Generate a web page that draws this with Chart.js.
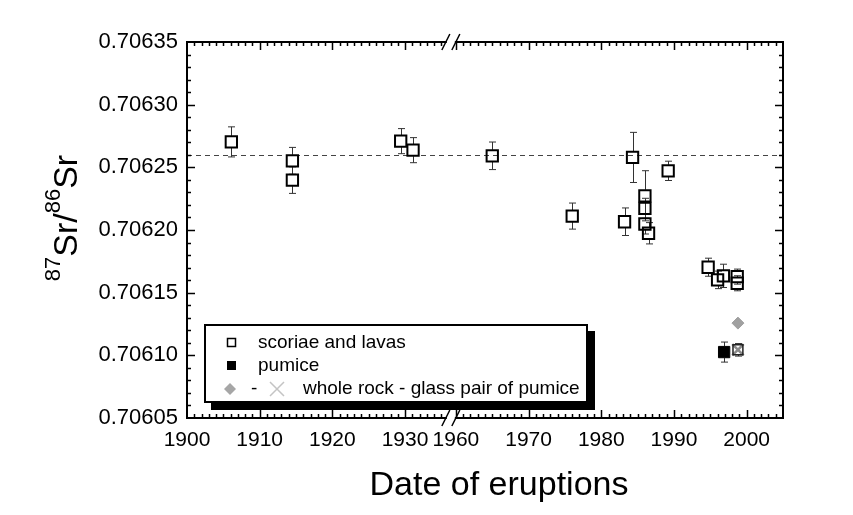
<!DOCTYPE html>
<html>
<head>
<meta charset="utf-8">
<script src="https://cdn.jsdelivr.net/npm/chart.js@4.4.1/dist/chart.umd.min.js"></script>
<style>
    html, body { margin: 0; padding: 0; background: #fff; }
    #contenedor { width: 853px; height: 515px; }
</style>
</head>
<body>
<div id="contenedor"><canvas id="grafico" width="853" height="515"></canvas></div>
<script>
// --- Datos ---
// Escorias y lavas (cuadrados vacíos)
const aniosEscorias = [1906.1, 1914.5, 1914.5, 1929.4, 1931.1, 1965.0, 1976.0, 1983.2, 1984.3, 1986.0,
    1986.0, 1986.0, 1986.5, 1989.2, 1994.7, 1996.0, 1996.8, 1998.7, 1998.7];
const valoresEscorias = [0.7062703, 0.7062552, 0.7062398, 0.7062709, 0.7062637, 0.7062592, 0.7062111, 0.7062066, 0.7062579, 0.7062273,
    0.7062173, 0.7062048, 0.7061974, 0.7062472, 0.7061703, 0.7061602, 0.7061634, 0.7061628, 0.7061575];
const erroresEscorias = [12, 10.7, 10.6, 10, 10, 11, 10.4, 11, 20, 20,
    8, 8, 8.5, 7.7, 7.2, 7, 9.3, 6, 6]; // en unidades de 1e-6

// Pómez (cuadrado lleno)
const aniosPomez = [1996.9];
const valoresPomez = [0.7061026];
const erroresPomez = [8];

// Par roca total - vidrio de la pómez
const aniosRoca = [1998.8];
const valoresRoca = [0.7061257];
const aniosVidrio = [1998.8];
const valoresVidrio = [0.7061044];
const erroresVidrio = [5];

// Etiquetas de los ejes
const etiquetasX = [1900, 1910, 1920, 1930, 1960, 1970, 1980, 1990, 2000];
const etiquetasY = [0.70605, 0.70610, 0.70615, 0.70620, 0.70625, 0.70630, 0.70635];
const valorReferencia = 0.70626;

// Eje X cortado: de 1936 a 1959 no se dibuja
const CORTE = 23;
const aVirtual = a => (a >= 1950 ? a - CORTE : a);
const deVirtual = v => (v > 1936.5 ? v + CORTE : v);

const FUENTE = '"Liberation Sans", Arial, sans-serif';

function puntos(anios, valores) {
    return anios.map((a, i) => ({ x: aVirtual(a), y: valores[i] }));
}

// Barras de error (se dibujan desde el borde del símbolo hacia fuera)
const pluginErrores = {
    id: 'errores',
    beforeDatasetsDraw: (chart) => {
        const ctx = chart.ctx;
        const sx = chart.scales.x;
        const sy = chart.scales.y;
        const area = chart.chartArea;

        // Línea discontinua de referencia
        ctx.save();
        ctx.strokeStyle = '#444';
        ctx.lineWidth = 1;
        ctx.setLineDash([5, 4]);
        const yRef = Math.round(sy.getPixelForValue(valorReferencia)) + 0.5;
        ctx.beginPath();
        ctx.moveTo(area.left, yRef);
        ctx.lineTo(area.right, yRef);
        ctx.stroke();
        ctx.restore();

        const grupos = [
            [aniosEscorias, valoresEscorias, erroresEscorias, 6],
            [aniosPomez, valoresPomez, erroresPomez, 6],
            [aniosVidrio, valoresVidrio, erroresVidrio, 5]
        ];
        ctx.save();
        ctx.strokeStyle = '#333';
        ctx.lineWidth = 1;
        grupos.forEach(([anios, valores, errores, medio]) => {
            anios.forEach((a, i) => {
                const x = Math.round(sx.getPixelForValue(aVirtual(a))) + 0.5;
                const y = sy.getPixelForValue(valores[i]);
                const yArriba = sy.getPixelForValue(valores[i] + errores[i] * 1e-6);
                const yAbajo = sy.getPixelForValue(valores[i] - errores[i] * 1e-6);
                ctx.beginPath();
                if (yArriba < y - medio) {
                    ctx.moveTo(x, y - medio); ctx.lineTo(x, yArriba);
                    ctx.moveTo(x - 3.5, yArriba); ctx.lineTo(x + 3.5, yArriba);
                }
                if (yAbajo > y + medio) {
                    ctx.moveTo(x, y + medio); ctx.lineTo(x, yAbajo);
                    ctx.moveTo(x - 3.5, yAbajo); ctx.lineTo(x + 3.5, yAbajo);
                }
                ctx.stroke();
            });
        });
        ctx.restore();
    }
};

// Marco con marcas hacia dentro en los cuatro lados, corte del eje X y títulos
const pluginMarco = {
    id: 'marco',
    afterDatasetsDraw: (chart) => {
        const ctx = chart.ctx;
        const sx = chart.scales.x;
        const sy = chart.scales.y;
        const { left, right, top, bottom } = chart.chartArea;

        ctx.save();
        ctx.strokeStyle = '#000';
        ctx.lineWidth = 2;
        ctx.strokeRect(left, top, right - left, bottom - top);

        ctx.lineWidth = 1.5;
        ctx.beginPath();
        // Marcas del eje Y: menores cada 0.00001
        for (let i = 1; i < 30; i++) {
            const y = Math.round(sy.getPixelForValue(0.70605 + i * 0.00001)) + 0.5;
            const largo = i % 5 === 0 ? 8 : 4;
            ctx.moveTo(left, y); ctx.lineTo(left + largo, y);
            ctx.moveTo(right, y); ctx.lineTo(right - largo, y);
        }
        // Marcas del eje X: menores cada año
        const anios = [];
        for (let a = 1901; a <= 1935; a++) anios.push(a);
        for (let a = 1960; a <= 2004; a++) anios.push(a);
        anios.forEach(a => {
            const x = Math.round(sx.getPixelForValue(aVirtual(a))) + 0.5;
            const largo = a % 10 === 0 ? 8 : 4;
            ctx.moveTo(x, bottom); ctx.lineTo(x, bottom - largo);
            ctx.moveTo(x, top); ctx.lineTo(x, top + largo);
        });
        ctx.stroke();

        // Corte "//" en los ejes superior e inferior
        const xCorte = sx.getPixelForValue(1936.3);
        [top, bottom].forEach(y => {
            ctx.fillStyle = '#fff';
            ctx.fillRect(xCorte - 4, y - 3, 8, 6);
            ctx.strokeStyle = '#000';
            ctx.lineWidth = 1.5;
            ctx.beginPath();
            ctx.moveTo(xCorte - 9, y + 8); ctx.lineTo(xCorte - 1, y - 8);
            ctx.moveTo(xCorte + 1, y + 8); ctx.lineTo(xCorte + 9, y - 8);
            ctx.stroke();
        });
        ctx.restore();
    },
    afterDraw: (chart) => {
        const ctx = chart.ctx;
        ctx.save();
        ctx.fillStyle = '#000';

        // Título del eje X
        ctx.font = '34px ' + FUENTE;
        ctx.textAlign = 'center';
        ctx.textBaseline = 'alphabetic';
        ctx.fillText('Date of eruptions', 499, 495);

        // Título del eje Y con superíndices: 87Sr/86Sr
        const partes = [
            ['87', 22, -17], ['Sr/', 34, 0], ['86', 22, -17], ['Sr', 34, 0]
        ];
        let total = 0;
        partes.forEach(([t, f]) => { ctx.font = f + 'px ' + FUENTE; total += ctx.measureText(t).width; });
        ctx.translate(77, 218);
        ctx.rotate(-Math.PI / 2);
        ctx.textAlign = 'left';
        let x = -total / 2;
        partes.forEach(([t, f, dy]) => {
            ctx.font = f + 'px ' + FUENTE;
            ctx.fillText(t, x, dy);
            x += ctx.measureText(t).width;
        });
        ctx.restore();

        // Leyenda con sombra
        ctx.save();
        ctx.fillStyle = '#000';
        ctx.fillRect(211, 331, 384, 79);
        ctx.fillStyle = '#fff';
        ctx.fillRect(205, 325, 382, 77);
        ctx.strokeStyle = '#000';
        ctx.lineWidth = 2;
        ctx.strokeRect(205, 325, 382, 77);

        ctx.font = '19px ' + FUENTE;
        ctx.textAlign = 'left';
        ctx.textBaseline = 'middle';
        ctx.fillStyle = '#000';
        ctx.lineWidth = 1.5;
        ctx.strokeRect(227.5, 338.5, 8, 8);
        ctx.fillText('scoriae and lavas', 258, 343);
        ctx.fillRect(227, 361, 9, 9);
        ctx.fillText('pumice', 258, 366);

        ctx.fillStyle = '#a6a6a6';
        ctx.beginPath();
        ctx.moveTo(230, 383); ctx.lineTo(236, 389); ctx.lineTo(230, 395); ctx.lineTo(224, 389);
        ctx.closePath();
        ctx.fill();
        ctx.fillStyle = '#000';
        ctx.fillText('-', 251, 389);
        ctx.strokeStyle = '#c4c4c4';
        ctx.lineWidth = 1.5;
        ctx.beginPath();
        ctx.moveTo(270, 382); ctx.lineTo(284, 396);
        ctx.moveTo(284, 382); ctx.lineTo(270, 396);
        ctx.stroke();
        ctx.fillText('whole rock - glass pair of pumice', 303, 389);
        ctx.restore();
    }
};

new Chart(document.getElementById('grafico').getContext('2d'), {
    type: 'scatter',
    data: {
        datasets: [
            {
                label: 'scoriae and lavas',
                data: puntos(aniosEscorias, valoresEscorias),
                pointStyle: 'rect',
                pointRadius: 8,
                borderColor: '#000',
                backgroundColor: 'rgba(0,0,0,0)',
                borderWidth: 2
            },
            {
                label: 'pumice',
                data: puntos(aniosPomez, valoresPomez),
                pointStyle: 'rect',
                pointRadius: 8,
                borderColor: '#000',
                backgroundColor: '#000',
                borderWidth: 1
            },
            {
                label: 'whole rock',
                data: puntos(aniosRoca, valoresRoca),
                pointStyle: 'rectRot',
                pointRadius: 6,
                borderColor: '#a0a0a0',
                backgroundColor: '#a0a0a0',
                borderWidth: 1
            },
            {
                label: 'glass (marco)',
                data: puntos(aniosVidrio, valoresVidrio),
                pointStyle: 'rect',
                pointRadius: 7,
                borderColor: '#222',
                backgroundColor: 'rgba(0,0,0,0)',
                borderWidth: 1.5
            },
            {
                label: 'glass',
                data: puntos(aniosVidrio, valoresVidrio),
                pointStyle: 'crossRot',
                pointRadius: 8,
                borderColor: '#8a8a8a',
                borderWidth: 2.5
            }
        ]
    },
    options: {
        responsive: false,
        animation: false,
        devicePixelRatio: 1,
        layout: { padding: { top: 42, right: 70, left: 0, bottom: 0 } },
        plugins: {
            legend: { display: false },
            tooltip: { enabled: false }
        },
        scales: {
            x: {
                type: 'linear',
                min: 1900,
                max: 1982,
                grid: { display: false, drawTicks: false },
                border: { display: false },
                afterBuildTicks: (scale) => {
                    scale.ticks = etiquetasX.map(a => ({ value: aVirtual(a) }));
                },
                afterFit: (scale) => { scale.height = 97; },
                ticks: {
                    autoSkip: false,
                    maxRotation: 0,
                    padding: 10,
                    color: '#000',
                    font: { family: FUENTE, size: 21 },
                    callback: (v) => String(Math.round(deVirtual(v)))
                }
            },
            y: {
                type: 'linear',
                min: 0.70605,
                max: 0.70635,
                grid: { display: false, drawTicks: false },
                border: { display: false },
                afterBuildTicks: (scale) => {
                    scale.ticks = etiquetasY.map(v => ({ value: v }));
                },
                afterFit: (scale) => { scale.width = 187; },
                ticks: {
                    padding: 9,
                    color: '#000',
                    font: { family: FUENTE, size: 22 },
                    callback: (v) => v.toFixed(5)
                }
            }
        }
    },
    plugins: [pluginErrores, pluginMarco]
});
</script>
</body>
</html>
